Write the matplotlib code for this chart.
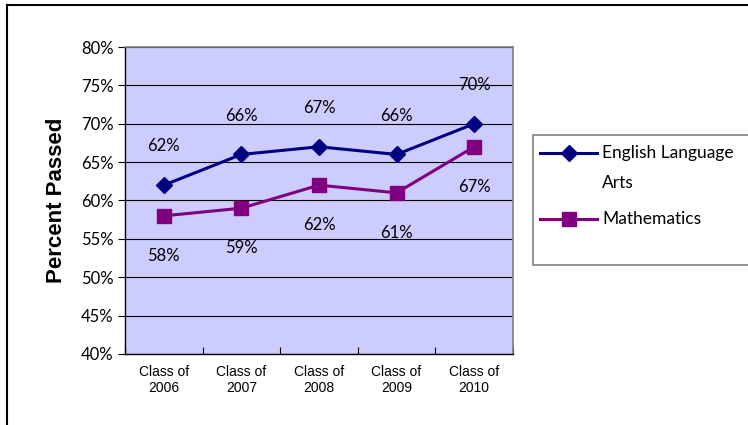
import matplotlib.pyplot as plt
from matplotlib.patches import Rectangle
from matplotlib.lines import Line2D

# ── Data ──
classes = ["Class of\n2006", "Class of\n2007", "Class of\n2008", "Class of\n2009", "Class of\n2010"]
ela = [62, 66, 67, 66, 70]
math = [58, 59, 62, 61, 67]
y_ticks = [40, 45, 50, 55, 60, 65, 70, 75, 80]

C_ELA = "#000080"
C_MATH = "#800080"
C_BG = "#CCCCFF"
C_AXIS = "#808080"
LABEL_FONT = "Lato"

fig = plt.figure(figsize=(7.48, 4.25), dpi=100)
fig.patch.set_facecolor("white")

# outer chart border (cut off at right/bottom)
fig.add_artist(Line2D([7 / 748, 7 / 748], [0, 1 - 5 / 425], color="black", lw=1.5))
fig.add_artist(Line2D([7 / 748, 1], [1 - 5 / 425, 1 - 5 / 425], color="black", lw=1.5))

ax = fig.add_axes([125 / 748, 71 / 425, 388 / 748, 307 / 425])
ax.set_facecolor(C_BG)
x = list(range(len(classes)))

ax.plot(x, ela, color=C_ELA, lw=2.2, marker="D", markersize=8.5, zorder=4,
        label="English Language\nArts")
ax.plot(x, math, color=C_MATH, lw=2.2, marker="s", markersize=10.5, zorder=4,
        label="Mathematics")

for xi, v in zip(x, ela):
    ax.annotate(f"{v}%", (xi, v), xytext=(0, 28), textcoords="offset points",
                ha="center", va="center", fontsize=12, family=LABEL_FONT)
for xi, v in zip(x, math):
    ax.annotate(f"{v}%", (xi, v), xytext=(0, -29), textcoords="offset points",
                ha="center", va="center", fontsize=12, family=LABEL_FONT)

ax.set_xlim(-0.5, len(classes) - 0.5)
ax.set_ylim(40, 80)
ax.set_yticks(y_ticks)
ax.set_yticklabels([f"{t}%" for t in y_ticks], fontsize=12, family=LABEL_FONT)
ax.set_xticks([i - 0.5 for i in range(len(classes) + 1)])
ax.set_xticklabels([])
ax.set_xticks(x, minor=True)
ax.set_xticklabels(classes, minor=True, fontsize=10, family="Liberation Sans")
ax.tick_params(axis="x", which="minor", length=0, pad=8)
ax.tick_params(axis="x", which="major", length=5, direction="in", color="black")
ax.tick_params(axis="y", length=5, direction="out", color="black", pad=3)

ax.grid(axis="y", color="black", lw=0.8, zorder=1)
ax.set_axisbelow(True)
for side in ["top", "right"]:
    ax.spines[side].set_color(C_AXIS)
    ax.spines[side].set_linewidth(1.2)
for side in ["left", "bottom"]:
    ax.spines[side].set_color("black")
    ax.spines[side].set_linewidth(1)

ax.set_ylabel("Percent Passed", fontsize=16, weight="bold", family="Liberation Sans",
              labelpad=10)

# ── Legend (box runs off the right edge) ──
fig.add_artist(Rectangle((533 / 748, 1 - 265 / 425), 240 / 748, 130 / 425,
                         transform=fig.transFigure, facecolor="white",
                         edgecolor=C_AXIS, lw=1.2, clip_on=False))
for (ly, color, mk, ms) in [(153, C_ELA, "D", 8.5), (219, C_MATH, "s", 10.5)]:
    yy = 1 - ly / 425
    fig.add_artist(Line2D([540 / 748, 597 / 748], [yy, yy], color=color, lw=2.2))
    fig.add_artist(Line2D([569 / 748], [yy], color=color, marker=mk, markersize=ms))
fig.text(602 / 748, 1 - 153 / 425, "English Language", fontsize=12.5, family=LABEL_FONT,
         va="center", ha="left")
fig.text(602 / 748, 1 - 183 / 425, "Arts", fontsize=12.5, family=LABEL_FONT,
         va="center", ha="left")
fig.text(602 / 748, 1 - 219 / 425, "Mathematics", fontsize=12.5, family=LABEL_FONT,
         va="center", ha="left")

fig.savefig("out.png", dpi=100, facecolor="white")
